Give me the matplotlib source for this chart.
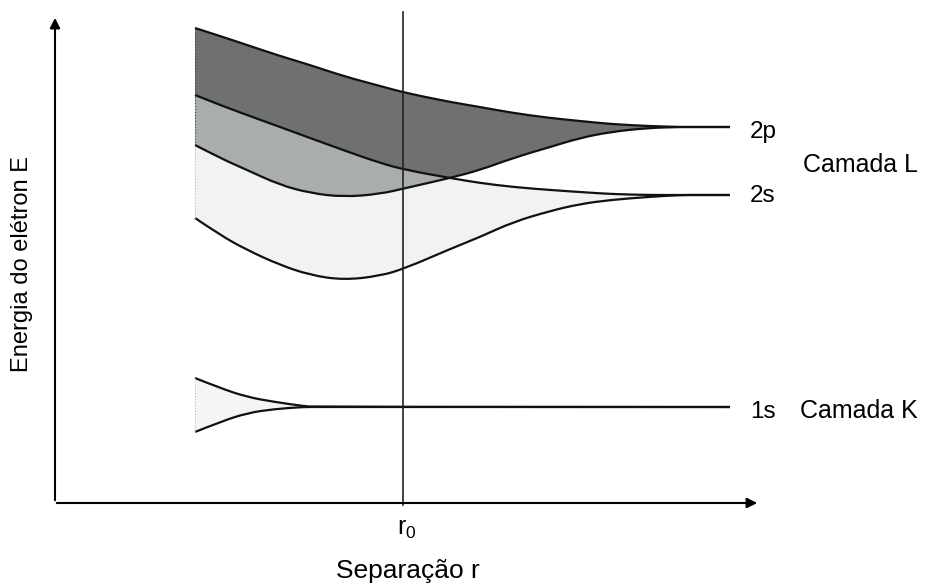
import matplotlib.pyplot as plt
from matplotlib.path import Path
from matplotlib.patches import PathPatch

plt.rcParams['font.family'] = ['Liberation Sans', 'DejaVu Sans']

# separation r (shared grid for the L shell curves)
r_L = [195, 220, 247, 280, 310, 343, 380, 406, 450, 480, 513, 550, 580, 610, 647, 680, 700, 730]
# 2p band: upper and lower edge
E_2p_top = [557, 549, 540, 529, 520, 509, 499, 492, 483, 478, 472, 467, 464, 461, 459, 458, 458, 458]
E_2p_bot = [440, 427, 415, 400, 392, 388, 391, 397, 407, 415, 427, 438, 447, 453, 457, 458, 458, 458]
# 2s band: upper and lower edge
E_2s_top = [490, 480, 470, 458, 447, 435, 422, 415, 407, 402, 398, 395, 393, 391, 390, 390, 390, 390]
E_2s_bot = [367, 350, 335, 320, 310, 305, 309, 317, 336, 348, 363, 374, 381, 385, 388, 390, 390, 390]

# K shell (1s)
r_K = [195, 220, 247, 275, 303, 315, 730]
E_1s_top = [207, 197, 188, 183, 179, 178, 178]
E_1s_bot = [153, 163, 172, 176, 178, 178, 178]

r0 = 403
level_names = ["2p", "2s", "1s"]
level_text_E = [447, 383, 167]


def spline(xs, ys, first=Path.MOVETO):
    """quadratic B-spline through the control points, as path pieces"""
    pts = list(zip(xs, ys))
    verts = [pts[0]]
    codes = [first]
    n = len(pts)
    for i in range(1, n - 1):
        if i < n - 2:
            end = ((pts[i][0] + pts[i + 1][0]) / 2, (pts[i][1] + pts[i + 1][1]) / 2)
        else:
            end = pts[-1]
        verts += [pts[i], end]
        codes += [Path.CURVE3, Path.CURVE3]
    return verts, codes


def curve(xs, ys):
    v, c = spline(xs, ys)
    return Path(v, c)


def band(xs, top, bot):
    v1, c1 = spline(xs, top)
    v2, c2 = spline(xs[::-1], bot[::-1], first=Path.LINETO)
    return Path(v1 + v2 + [v1[0]], c1 + c2 + [Path.CLOSEPOLY])


fig = plt.figure(figsize=(9.27, 5.85), dpi=100)
ax = fig.add_axes([0, 0, 1, 1])
ax.set_xlim(0, 927)
ax.set_ylim(0, 585)
ax.axis('off')

# bands
band_2s = band(r_L, E_2s_top, E_2s_bot)
band_2p = band(r_L, E_2p_top, E_2p_bot)
ax.add_patch(PathPatch(band_2s, fc='#f2f2f2', lw=0))
p2p = ax.add_patch(PathPatch(band_2p, fc='#6e716f', lw=0))
# where the two bands overlap
overlap = ax.add_patch(PathPatch(band_2s, fc='#a9aeaa', lw=0))
overlap.set_clip_path(p2p)
ax.add_patch(PathPatch(band(r_K, E_1s_top, E_1s_bot), fc='#f5f5f5', lw=0))

for E in (E_2p_top, E_2p_bot, E_2s_top, E_2s_bot):
    ax.add_patch(PathPatch(curve(r_L, E), fc='none', ec='#111111', lw=1.6))
for E in (E_1s_top, E_1s_bot):
    ax.add_patch(PathPatch(curve(r_K, E), fc='none', ec='#111111', lw=1.6))

# faint dotted left edges of the bands
ax.plot([r_L[0], r_L[0]], [E_2p_bot[0], E_2p_top[0]], color='#444444', lw=0.8, ls=':')
ax.plot([r_L[0], r_L[0]], [E_2s_bot[0], E_2p_bot[0]], color='#bbbbbb', lw=0.8, ls=':')
ax.plot([r_K[0], r_K[0]], [E_1s_bot[0], E_1s_top[0]], color='#bbbbbb', lw=0.8, ls=':')

# equilibrium separation
ax.plot([r0, r0], [80, 573], color='#222222', lw=1.2)

# axes with arrows
ax.annotate('', xy=(55, 570), xytext=(55, 82),
            arrowprops=dict(arrowstyle='-|>', color='black', lw=1.5, mutation_scale=15))
ax.annotate('', xy=(760, 82), xytext=(54, 82),
            arrowprops=dict(arrowstyle='-|>', color='black', lw=1.5, mutation_scale=15))

# labels
for name, E in zip(level_names, level_text_E):
    ax.text(750, E, name, fontsize=17.5, va='baseline', ha='left')
ax.text(803, 413, "Camada L", fontsize=18, va='baseline', ha='left')
ax.text(800, 167, "Camada K", fontsize=18, va='baseline', ha='left')
ax.text(397, 50, "r$_\\mathregular{0}$", fontsize=18, va='baseline', ha='left')
ax.text(408, 7, "Separação r", fontsize=19, va='baseline', ha='center')
ax.text(22, 321, "Energia do elétron E", fontsize=17, va='center', ha='center',
        rotation=90)

fig.savefig("out.png", dpi=100)
